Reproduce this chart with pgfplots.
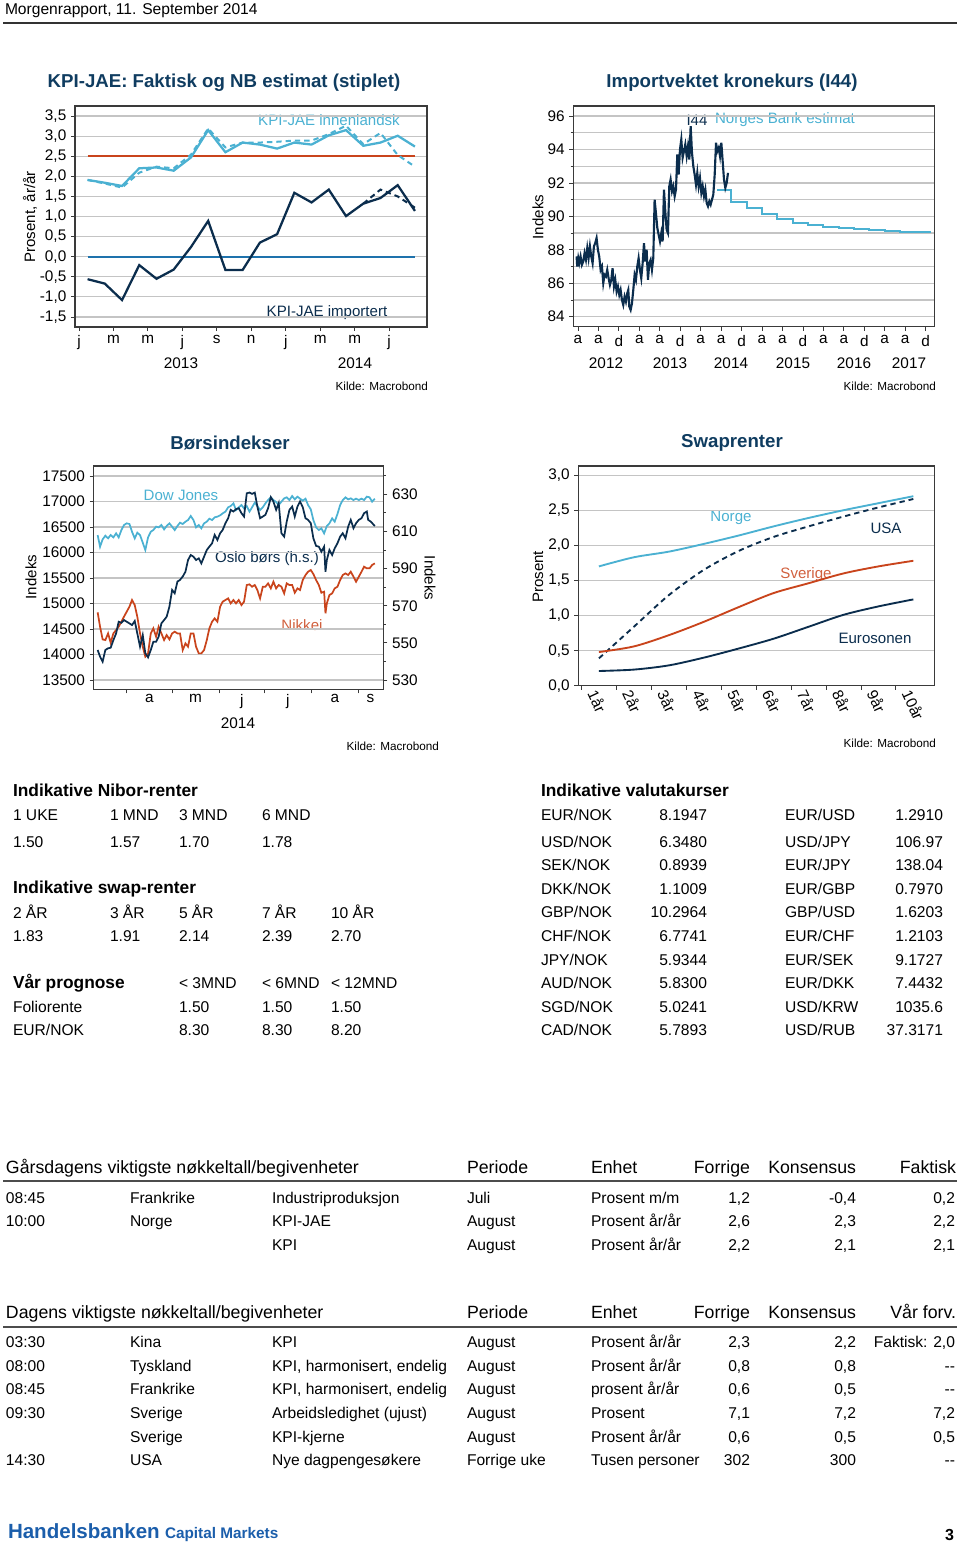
\documentclass[border=0pt]{standalone}
\usepackage{fontspec}
\setmainfont{Liberation Sans}
\usepackage{pgfplots}
\pgfplotsset{compat=1.18}
\definecolor{navy}{HTML}{0B2D4D}
\definecolor{ttl}{HTML}{0F3C60}
\definecolor{lblue}{HTML}{4BB1D2}
\definecolor{ored}{HTML}{C9441C}
\definecolor{mblue}{HTML}{1E72AC}
\definecolor{gridc}{HTML}{C4C4C4}
\definecolor{framec}{HTML}{3A3A3A}
\definecolor{hb}{HTML}{1B5EAB}
\newcommand\fb{\fontsize{11.7}{13}\selectfont}
\newcommand\fh{\fontsize{13}{15}\selectfont\bfseries}
\newcommand\fH{\fontsize{13.3}{15}\selectfont}
\newcommand\ftt{\fontsize{14}{16}\selectfont\bfseries}
\newcommand\fa{\fontsize{11.3}{13}\selectfont}
\newcommand\fk{\fontsize{8.8}{10}\selectfont}
\newcommand\Lt[3]{\node[anchor=mid west] at (#1,#2) {\fb #3};}
\newcommand\Rt[3]{\node[anchor=mid east] at (#1,#2) {\fb #3};}
\newcommand\dd{-{}-}
% one row of the event tables: y, time, country, indicator, period, unit, prev, cons, last
\newcommand\Row[9]{\Lt{6}{#1}{#2}\Lt{130}{#1}{#3}\Lt{272}{#1}{#4}\Lt{467}{#1}{#5}\Lt{591}{#1}{#6}\Rt{750}{#1}{#7}\Rt{856}{#1}{#8}\Rt{955}{#1}{#9}}
\newcommand\Fx[5]{\Lt{541}{#1}{#2}\Rt{707}{#1}{#3}\Lt{785}{#1}{#4}\Rt{943}{#1}{#5}}
\pgfplotsset{
  page/.style={scale only axis, anchor=north west,
    axis line style={draw=framec, line width=0.9pt},
    tick style={draw=framec, line width=0.6pt},
    tick align=outside, major tick length=3pt, minor tick length=2pt,
    xtick pos=bottom, ytick pos=left,
    ymajorgrids, grid style={draw=gridc, line width=0.9pt},
    tick label style={font=\fontsize{11.5}{13}\selectfont},
    scaled ticks=false,
    /pgf/number format/assume math mode=true,
    /pgf/number format/1000 sep={}},
  comma/.style={yticklabel style={/pgf/number format/.cd, fixed, fixed zerofill, precision=1, use comma}},
}
\begin{document}
\begin{tikzpicture}
\path[use as bounding box] (0,0) rectangle (720pt,-1159.5pt);
\begin{scope}[x=0.75pt,y=-0.75pt, every node/.style={inner sep=0pt, outer sep=0pt}]
% header
\node[anchor=base west] at (5,14) {\fb Morgenrapport, 11. September 2014};
\draw[line width=1.3pt, draw=black!80] (3,23) -- (957,23);
% chart titles
\node[text=ttl] at (224,83) {\ftt KPI-JAE: Faktisk og NB estimat (stiplet)};
\node[text=ttl] at (732,83) {\ftt Importvektet kronekurs (I44)};
\node[text=ttl] at (230,443) {\ftt Børsindekser};
\node[text=ttl] at (732,443) {\ftt Swaprenter};
% chart 1 annotations
\node[rotate=90] at (30,217) {\fa Prosent, år/år};
\node[text=lblue] at (329,120) {\fa KPI-JAE innenlandsk};
\node[text=navy] at (327,313) {\fa KPI-JAE importert};
\node at (181,363) {\fontsize{11.5}{13}\selectfont 2013};
\node at (355,363) {\fontsize{11.5}{13}\selectfont 2014};
\node[anchor=mid east] at (428,387) {\fk Kilde: Macrobond};
% chart 2 annotations
\node[rotate=90] at (538,217) {\fa Indeks};
\node[text=navy] at (697,120) {\fa I44};
\node[text=lblue] at (785,120) {\fa Norges Bank estimat};
\node at (606,363) {\fontsize{11.5}{13}\selectfont 2012};
\node at (670,363) {\fontsize{11.5}{13}\selectfont 2013};
\node at (731,363) {\fontsize{11.5}{13}\selectfont 2014};
\node at (793,363) {\fontsize{11.5}{13}\selectfont 2015};
\node at (854,363) {\fontsize{11.5}{13}\selectfont 2016};
\node at (909,363) {\fontsize{11.5}{13}\selectfont 2017};
\node[anchor=mid east] at (936,387) {\fk Kilde: Macrobond};
% chart 3 annotations
\node[rotate=90] at (31,577) {\fa Indeks};
\node[rotate=-90] at (430,578) {\fa Indeks};
\node[text=lblue] at (181,495) {\fa Dow Jones};
\node[text=navy] at (267,559) {\fa Oslo børs (h.s.)};
\node[text=ored!85] at (302,625) {\fa Nikkei};
\node at (238,723) {\fontsize{11.5}{13}\selectfont 2014};
\node[anchor=mid east] at (439,747) {\fk Kilde: Macrobond};
% chart 4 annotations
\node[rotate=90] at (538,577) {\fa Prosent};
\node[text=lblue] at (731,518) {\fa Norge};
\node[text=navy] at (886,528) {\fa USA};
\node[text=ored!85] at (806,575) {\fa Sverige};
\node[text=navy] at (875,638) {\fa Eurosonen};
\node[anchor=mid east] at (936,744) {\fk Kilde: Macrobond};
% left tables
\node[anchor=mid west] at (13,793) {\fh Indikative Nibor-renter};
\Lt{13}{817}{1 UKE}\Lt{110}{817}{1 MND}\Lt{179}{817}{3 MND}\Lt{262}{817}{6 MND}
\Lt{13}{844}{1.50}\Lt{110}{844}{1.57}\Lt{179}{844}{1.70}\Lt{262}{844}{1.78}
\node[anchor=mid west] at (13,890) {\fh Indikative swap-renter};
\Lt{13}{915}{2 ÅR}\Lt{110}{915}{3 ÅR}\Lt{179}{915}{5 ÅR}\Lt{262}{915}{7 ÅR}\Lt{331}{915}{10 ÅR}
\Lt{13}{938}{1.83}\Lt{110}{938}{1.91}\Lt{179}{938}{2.14}\Lt{262}{938}{2.39}\Lt{331}{938}{2.70}
\node[anchor=mid west] at (13,985) {\fh Vår prognose};
\Lt{179}{985}{< 3MND}\Lt{262}{985}{< 6MND}\Lt{331}{985}{< 12MND}
\Lt{13}{1009}{Foliorente}\Lt{179}{1009}{1.50}\Lt{262}{1009}{1.50}\Lt{331}{1009}{1.50}
\Lt{13}{1032}{EUR/NOK}\Lt{179}{1032}{8.30}\Lt{262}{1032}{8.30}\Lt{331}{1032}{8.20}
% right table
\node[anchor=mid west] at (541,793) {\fh Indikative valutakurser};
\Fx{817}{EUR/NOK}{8.1947}{EUR/USD}{1.2910}
\Fx{844}{USD/NOK}{6.3480}{USD/JPY}{106.97}
\Fx{867}{SEK/NOK}{0.8939}{EUR/JPY}{138.04}
\Fx{891}{DKK/NOK}{1.1009}{EUR/GBP}{0.7970}
\Fx{914}{GBP/NOK}{10.2964}{GBP/USD}{1.6203}
\Fx{938}{CHF/NOK}{6.7741}{EUR/CHF}{1.2103}
\Fx{962}{JPY/NOK}{5.9344}{EUR/SEK}{9.1727}
\Fx{985}{AUD/NOK}{5.8300}{EUR/DKK}{7.4432}
\Fx{1009}{SGD/NOK}{5.0241}{USD/KRW}{1035.6}
\Fx{1032}{CAD/NOK}{5.7893}{USD/RUB}{37.3171}
% yesterday table
\node[anchor=mid west] at (6,1170) {\fH Gårsdagens viktigste nøkkeltall/begivenheter};
\node[anchor=mid west] at (467,1170) {\fH Periode};
\node[anchor=mid west] at (591,1170) {\fH Enhet};
\node[anchor=mid east] at (750,1170) {\fH Forrige};
\node[anchor=mid east] at (856,1170) {\fH Konsensus};
\node[anchor=mid east] at (956,1170) {\fH Faktisk};
\draw[line width=1.2pt, draw=black!70] (3,1181) -- (957,1181);
\Row{1200}{08:45}{Frankrike}{Industriproduksjon}{Juli}{Prosent m/m}{1,2}{-0,4}{0,2}
\Row{1223}{10:00}{Norge}{KPI-JAE}{August}{Prosent år/år}{2,6}{2,3}{2,2}
\Row{1247}{}{}{KPI}{August}{Prosent år/år}{2,2}{2,1}{2,1}
% today table
\node[anchor=mid west] at (6,1315) {\fH Dagens viktigste nøkkeltall/begivenheter};
\node[anchor=mid west] at (467,1315) {\fH Periode};
\node[anchor=mid west] at (591,1315) {\fH Enhet};
\node[anchor=mid east] at (750,1315) {\fH Forrige};
\node[anchor=mid east] at (856,1315) {\fH Konsensus};
\node[anchor=mid east] at (956,1315) {\fH Vår forv.};
\draw[line width=1.2pt, draw=black!70] (3,1327) -- (957,1327);
\Row{1344}{03:30}{Kina}{KPI}{August}{Prosent år/år}{2,3}{2,2}{Faktisk: 2,0}
\Row{1368}{08:00}{Tyskland}{KPI, harmonisert, endelig}{August}{Prosent år/år}{0,8}{0,8}{\dd}
\Row{1391}{08:45}{Frankrike}{KPI, harmonisert, endelig}{August}{prosent år/år}{0,6}{0,5}{\dd}
\Row{1415}{09:30}{Sverige}{Arbeidsledighet (ujust)}{August}{Prosent}{7,1}{7,2}{7,2}
\Row{1439}{}{Sverige}{KPI-kjerne}{August}{Prosent år/år}{0,6}{0,5}{0,5}
\Row{1462}{14:30}{USA}{Nye dagpengesøkere}{Forrige uke}{Tusen personer}{302}{300}{\dd}
% footer
\node[anchor=base west, text=hb] at (8,1538) {\fontsize{15.4}{17}\selectfont\bfseries Handelsbanken};
\node[anchor=base west, text=hb] at (165,1538) {\fontsize{11.5}{13}\selectfont\bfseries Capital Markets};
\node[anchor=base east] at (954,1540) {\fontsize{12}{14}\selectfont\bfseries 3};
\end{scope}

% ---------------- chart 1 ----------------
\begin{axis}[page, comma, at={(56.25pt,-79.5pt)}, width=264pt, height=165.75pt,
  xmin=-0.23, xmax=20.2, ymin=-1.75, ymax=3.75,
  ytick={-1.5,-1,...,3.5},
  xtick={0,2,...,18}, xticklabels={j,m,m,j,s,n,j,m,m,j}]
\addplot[ored, line width=1.4pt] coordinates {(0.5,2.5)(19.5,2.5)};
\addplot[mblue, line width=1.4pt] coordinates {(0.5,0)(19.5,0)};
\addplot[lblue, line width=1.5pt, dash pattern=on 4pt off 3pt] coordinates {
(0.5,1.91)(1.5,1.82)(2.5,1.72)(3.5,2.09)(4.5,2.24)(5.5,2.20)(6.5,2.54)(7.5,3.19)(8.5,2.72)(9.5,2.84)
(10.5,2.84)(11.5,2.86)(12.5,2.89)(13.5,2.89)(14.5,3.05)(15.5,3.26)(16.5,2.80)(17.5,3.08)(18.5,2.53)(19.5,2.24)};
\addplot[lblue, line width=1.7pt] coordinates {
(0.5,1.91)(1.5,1.84)(2.5,1.76)(3.5,2.20)(4.5,2.22)(5.5,2.14)(6.5,2.47)(7.5,3.15)(8.5,2.60)(9.5,2.84)
(10.5,2.79)(11.5,2.69)(12.5,2.84)(13.5,2.79)(14.5,3.02)(15.5,3.15)(16.5,2.76)(17.5,2.84)(18.5,3.01)(19.5,2.74)};
\addplot[navy, line width=1.5pt, dash pattern=on 4pt off 3pt] coordinates {
(16.5,1.32)(17.5,1.67)(18.5,1.50)(19.5,1.22)};
\addplot[navy, line width=1.7pt] coordinates {
(0.5,-0.56)(1.5,-0.67)(2.5,-1.08)(3.5,-0.21)(4.5,-0.55)(5.5,-0.32)(6.5,0.24)(7.5,0.89)(8.5,-0.33)(9.5,-0.33)
(10.5,0.35)(11.5,0.56)(12.5,1.59)(13.5,1.35)(14.5,1.67)(15.5,1.01)(16.5,1.32)(17.5,1.46)(18.5,1.78)(19.5,1.14)};
\end{axis}

% ---------------- chart 2 ----------------
\begin{axis}[page, at={(429.98pt,-79.5pt)}, width=270.75pt, height=165.5pt,
  xmin=-0.9, xmax=69.7, ymin=83.4, ymax=96.6,
  ytick={84,86,...,96}, minor ytick={85,87,...,95}, yminorgrids,
  minor grid style={draw=gridc, line width=0.9pt},
  xtick={0,4,...,68}, xticklabels={a,a,d,a,a,d,a,a,d,a,a,d,a,a,d,a,a,d}]
\addplot[lblue, line width=1.5pt, const plot] coordinates {
(27.27,91.55)(30,90.87)(33,90.47)(36,90.11)(39,89.83)(42,89.61)(45,89.47)(48,89.39)(51,89.31)
(54,89.25)(57,89.19)(60,89.13)(63,89.08)(66,89.05)(69,89.05)};
\addplot[navy, line width=1.6pt] coordinates {
(-0.26,87.6)(-0.13,87.0)(0.07,87.5)(0.26,87.2)(0.52,87.6)(0.78,87.1)(1.04,87.3)(1.30,87.8)(1.57,87.4)
(1.83,88.1)(2.09,87.5)(2.35,88.2)(2.61,87.6)(2.87,87.2)(3.13,88.2)(3.39,88.4)(3.65,88.7)(3.91,88.0)
(4.17,87.6)(4.44,86.8)(4.70,87.0)(4.96,86.0)(5.22,86.5)(5.48,86.4)(5.74,86.8)(6.00,86.3)(6.26,85.9)
(6.52,86.2)(6.78,86.9)(7.05,85.8)(7.31,86.2)(7.57,85.5)(7.83,85.8)(8.09,85.3)(8.35,85.6)(8.61,85.0)
(8.87,84.7)(9.13,85.2)(9.39,84.9)(9.65,85.4)(9.85,85.6)(10.05,84.6)(10.31,84.4)(10.57,84.8)(10.83,85.6)
(11.09,86.5)(11.35,86.2)(11.61,87.0)(11.87,87.5)(12.13,86.8)(12.39,86.3)(12.66,87.2)(12.92,88.4)
(13.18,87.3)(13.44,88.0)(13.70,86.2)(13.96,87.2)(14.22,87.4)(14.48,86.8)(14.74,87.5)(15.00,91.0)
(15.26,90.2)(15.53,89.3)(15.79,88.9)(16.05,88.5)(16.31,89.0)(16.57,88.5)(16.83,91.6)(17.09,90.3)
(17.35,89.2)(17.61,89.0)(17.87,91.8)(18.13,92.2)(18.40,91.5)(18.66,91.8)(18.92,91.2)(19.18,91.6)
(19.44,93.7)(19.70,92.5)(19.96,94.0)(20.22,94.6)(20.48,93.5)(20.74,93.9)(21.00,94.3)(21.27,93.6)
(21.53,94.2)(21.79,93.4)(22.05,95.4)(22.31,93.8)(22.57,93.0)(22.83,92.5)(23.09,91.9)(23.35,92.6)
(23.61,91.8)(23.87,92.3)(24.14,91.4)(24.40,91.8)(24.66,91.2)(24.92,91.6)(25.18,90.8)(25.44,90.6)
(25.70,90.9)(25.96,90.7)(26.22,91.0)(26.48,91.3)(26.75,92.5)(27.01,94.4)(27.27,93.9)(27.53,94.1)
(27.79,93.6)(28.05,94.4)(28.31,93.3)(28.57,92.2)(28.83,91.7)(29.09,92.0)(29.35,92.6)};
\end{axis}

% ---------------- chart 3 ----------------
\begin{axis}[page, at={(70.28pt,-349.5pt)}, width=217.2pt, height=167.5pt,
  xmin=68.2, xmax=259.5, ymin=13318, ymax=17696,
  ytick={13500,14000,...,17500},
  xtick={90,120,151,181,212,243}, xticklabels={},
  extra x ticks={105,135.5,166,196.5,227.5,251}, extra x tick labels={a,m,j,j,a,s},
  extra x tick style={major tick length=0pt, grid=none}]
\addplot[lblue, line width=1.3pt] coordinates {
(70.8,16343)(72.4,16114)(74.1,16258)(75.9,16330)(77.7,16278)(79.4,16343)(81.2,16297)(83.0,16376)(84.7,16297)(86.5,16441)(88.2,16539)(90.0,16572)(91.8,16559)(93.5,16408)(95.3,16278)(97.0,16389)(98.8,16343)(100.6,16193)(102.3,16049)(104.1,16297)(105.9,16408)(107.6,16441)(109.4,16507)(111.1,16493)(112.9,16539)(114.7,16454)(116.4,16520)(118.2,16572)(120.0,16507)(121.7,16441)(123.5,16520)(125.2,16585)(127.0,16559)(128.8,16605)(130.5,16637)(132.3,16716)(134.1,16637)(135.8,16493)(137.6,16539)(139.3,16474)(141.1,16572)(142.9,16605)(144.6,16663)(146.4,16637)(148.1,16690)(149.9,16703)(151.7,16729)(153.4,16768)(155.2,16801)(157.0,16886)(158.7,16912)(160.5,16964)(162.2,16833)(164.0,16886)(165.8,16931)(167.5,16866)(169.3,16912)(171.1,16801)(172.8,16886)(174.6,16977)(176.3,16912)(178.1,16833)(179.9,16886)(181.6,16964)(183.4,17029)(185.2,17082)(186.9,17029)(188.7,16990)(190.4,16931)(192.2,16997)(194.0,17062)(195.7,17082)(197.5,17029)(199.3,17108)(201.0,17042)(202.8,17095)(204.5,17056)(206.3,17016)(208.1,17056)(209.8,16931)(211.6,16846)(213.3,16637)(215.1,16493)(216.9,16441)(218.6,16474)(220.4,16376)(222.2,16520)(223.9,16572)(225.7,16670)(227.4,16605)(229.2,16755)(231.0,16931)(232.7,17029)(234.5,17082)(236.3,17042)(238.0,17062)(239.8,17029)(241.5,17056)(243.3,17029)(245.1,17056)(246.8,17029)(248.6,17095)(250.4,17082)(252.1,16997)(253.9,17056)};
\addplot[ored, line width=1.3pt] coordinates {
(70.8,14827)(72.4,14546)(74.1,14297)(75.9,14284)(77.7,14415)(79.4,14232)(81.2,14415)(83.0,14480)(84.7,14546)(86.5,14644)(88.2,14742)(90.0,14840)(91.8,14938)(93.5,15069)(95.3,14970)(97.0,14742)(98.8,14415)(100.6,14154)(102.3,13958)(104.1,14023)(105.9,14415)(107.6,14513)(109.4,14350)(111.1,14546)(112.9,14415)(114.7,14284)(116.4,14382)(118.2,14297)(120.0,14415)(121.7,14448)(123.5,14415)(125.2,14415)(127.0,14088)(128.8,14219)(130.5,14154)(132.3,14415)(134.1,14415)(135.8,14154)(137.6,14023)(139.3,14023)(141.1,14088)(142.9,14284)(144.6,14513)(146.4,14644)(148.1,14709)(149.9,14644)(151.7,14938)(153.4,15036)(155.2,15069)(157.0,15101)(158.7,15003)(160.5,15069)(162.2,15003)(164.0,15069)(165.8,14970)(167.5,15036)(169.3,15363)(171.1,15376)(172.8,15330)(174.6,15363)(176.3,15265)(178.1,15101)(179.9,15330)(181.6,15330)(183.4,15395)(185.2,15297)(186.9,15428)(188.7,15297)(190.4,15363)(192.2,15330)(194.0,15199)(195.7,15395)(197.5,15363)(199.3,15363)(201.0,15212)(202.8,15297)(204.5,15265)(206.3,15461)(208.1,15559)(209.8,15624)(211.6,15657)(213.3,15578)(215.1,15461)(216.9,15363)(218.6,15212)(220.4,15232)(221.3,14807)(222.2,15003)(223.9,15167)(225.7,15199)(227.4,15297)(229.2,15330)(231.0,15461)(232.7,15559)(234.5,15591)(236.3,15559)(238.0,15624)(239.8,15526)(241.5,15428)(243.3,15526)(245.1,15624)(246.8,15722)(248.6,15690)(250.4,15690)(252.1,15755)(253.9,15788)};
\end{axis}
\begin{axis}[page, at={(70.28pt,-349.5pt)}, width=217.2pt, height=167.5pt,
  xmin=68.2, xmax=259.5, ymin=525, ymax=645.2,
  axis x line=none, axis y line*=right, ytick pos=right, ymajorgrids=false,
  ytick={530,550,...,630}, minor ytick={540,560,...,640}]
\addplot[navy, line width=1.3pt] coordinates {
(70.8,546.2)(72.4,542.6)(74.1,539.9)(75.9,546.2)(77.7,547.1)(79.4,547.4)(81.2,551.5)(83.0,555.1)(84.7,561.4)(86.5,560.8)(88.2,562.3)(90.0,561.4)(91.8,560.5)(93.5,559.6)(95.3,561.8)(97.0,555.1)(98.8,548.0)(100.6,554.2)(102.3,544.4)(104.1,542.2)(105.9,546.2)(107.6,550.6)(109.4,550.6)(111.1,553.3)(112.9,560.5)(114.7,562.3)(116.4,564.1)(118.2,569.5)(120.0,578.5)(121.7,576.7)(123.5,583.0)(125.2,583.9)(127.0,585.7)(128.8,588.3)(130.5,594.6)(132.3,597.3)(134.1,596.4)(135.8,594.6)(137.6,595.5)(139.3,592.8)(141.1,596.4)(142.9,600.0)(144.6,601.8)(146.4,603.6)(148.1,608.1)(149.9,605.4)(151.7,609.0)(153.4,610.8)(155.2,614.4)(157.0,617.1)(158.7,621.6)(160.5,620.7)(162.2,622.0)(164.0,622.5)(165.8,619.8)(167.5,618.0)(169.3,630.5)(171.1,630.9)(172.8,630.2)(174.6,630.9)(176.3,623.4)(178.1,617.1)(179.9,618.0)(181.6,618.9)(183.4,622.5)(185.2,628.4)(186.9,626.1)(188.7,621.6)(190.4,625.2)(192.2,609.0)(194.0,607.2)(195.7,615.3)(197.5,621.6)(199.3,623.4)(201.0,618.0)(202.8,623.4)(204.5,626.1)(206.3,623.0)(208.1,617.1)(209.8,616.2)(211.6,614.4)(213.3,606.3)(215.1,602.2)(216.9,601.8)(218.6,599.1)(220.4,601.8)(221.3,588.3)(222.2,594.6)(223.9,600.0)(225.7,597.3)(227.4,600.9)(229.2,603.6)(231.0,607.2)(232.7,609.0)(234.5,606.3)(236.3,612.6)(238.0,616.2)(239.8,611.7)(241.5,614.4)(243.3,616.2)(245.1,617.1)(246.8,619.8)(248.6,620.7)(249.5,616.2)(251.2,615.3)(253.9,612.9)};
\end{axis}

% ---------------- chart 4 ----------------
\begin{axis}[page, comma, at={(433.73pt,-349.5pt)}, width=267pt, height=164.8pt,
  xmin=0.41, xmax=10.6, ymin=0, ymax=3.13,
  ytick={0,0.5,...,3},
  xtick={0.5,1.5,...,9.5}, xticklabels={},
  extra x ticks={1,...,10}, extra x tick labels={1år,2år,3år,4år,5år,6år,7år,8år,9år,10år},
  extra x tick style={major tick length=0pt, grid=none,
    xticklabel style={rotate=-65, anchor=west, yshift=-6pt, xshift=-2pt}}]
\addplot[lblue, line width=1.4pt, smooth] coordinates {
(1,1.70)(2,1.83)(3,1.91)(4,2.02)(5,2.14)(6,2.27)(7,2.39)(8,2.50)(9,2.60)(10,2.70)};
\addplot[navy, line width=1.4pt, smooth, dash pattern=on 4pt off 3pt] coordinates {
(1,0.39)(2,0.84)(3,1.29)(4,1.65)(5,1.92)(6,2.12)(7,2.27)(8,2.41)(9,2.54)(10,2.66)};
\addplot[ored, line width=1.4pt, smooth] coordinates {
(1,0.48)(2,0.56)(3,0.72)(4,0.91)(5,1.12)(6,1.32)(7,1.46)(8,1.60)(9,1.70)(10,1.78)};
\addplot[navy, line width=1.4pt, smooth] coordinates {
(1,0.21)(2,0.23)(3,0.29)(4,0.40)(5,0.53)(6,0.67)(7,0.84)(8,1.01)(9,1.13)(10,1.23)};
\end{axis}
\end{tikzpicture}
\end{document}
